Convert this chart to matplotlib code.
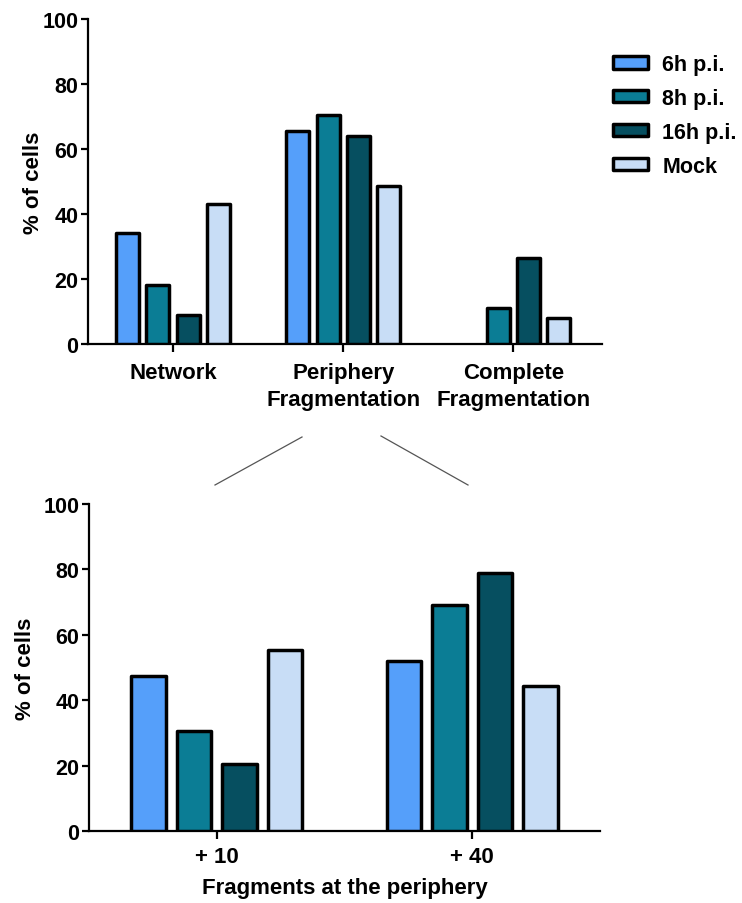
import matplotlib.pyplot as plt
import numpy as np
from matplotlib.lines import Line2D

plt.rcParams['font.family'] = ['Liberation Sans', 'DejaVu Sans']
plt.rcParams['font.weight'] = 'bold'

# data
series = ['6h p.i.', '8h p.i.', '16h p.i.', 'Mock']
colors = ['#559ffa', '#0b7d95', '#064f60', '#c8ddf6']

top_cats = ['Network', 'Periphery\nFragmentation', 'Complete\nFragmentation']
top_vals = [
    [34, 65.5, 0],     # 6h
    [18, 70.5, 11],    # 8h
    [9, 64, 26.5],     # 16h
    [43, 48.5, 8],     # Mock
]

bot_cats = ['+ 10', '+ 40']
bot_vals = [
    [47.5, 52],    # 6h
    [30.5, 69],    # 8h
    [20.5, 79],    # 16h
    [55.5, 44.5],  # Mock
]

yticks = [0, 20, 40, 60, 80, 100]

step = 0.178
bw = 0.135

fig = plt.figure(figsize=(7.42, 9.04), dpi=100)
ax1 = fig.add_axes([0.1186, 0.6184, 0.6927, 0.3595])
ax2 = fig.add_axes([0.12, 0.0796, 0.6887, 0.3617])


def draw(ax, cats, vals):
    x = np.arange(len(cats))
    bars = []
    for i, (name, v, c) in enumerate(zip(series, vals, colors)):
        b = ax.bar(x + (i - 1.5) * step, v, bw, color=c, edgecolor='black',
                   linewidth=2.5, label=name, zorder=3)
        for p in b.patches:
            p.set_joinstyle('round')
            if p.get_height() == 0:
                p.set_visible(False)
        bars.append(b)
    ax.set_ylim(0, 100)
    ax.set_yticks(yticks)
    ax.set_xticks(x)
    ax.set_xticklabels(cats, linespacing=1.35)
    for s in ['top', 'right']:
        ax.spines[s].set_visible(False)
    for s in ['left', 'bottom']:
        ax.spines[s].set_linewidth(1.6)
    ax.tick_params(axis='both', width=1.6, length=5, labelsize=15.5, pad=2)
    ax.tick_params(axis='x', length=6)
    return bars


bars = draw(ax1, top_cats, top_vals)
ax1.set_xlim(-0.5, 2.52)
ax1.tick_params(axis='x', labelsize=16, pad=7)
ax1.set_ylabel('% of cells', fontsize=16, fontweight='bold', labelpad=-1)

draw(ax2, bot_cats, bot_vals)
ax2.set_xlim(-0.5, 1.5)
ax2.tick_params(axis='x', labelsize=16, pad=5)
ax2.set_ylabel('% of cells', fontsize=16, fontweight='bold', labelpad=5)
ax2.set_xlabel('Fragments at the periphery', fontsize=16, fontweight='bold', labelpad=7)

leg = fig.legend(handles=bars, labels=series, loc='upper left',
                 bbox_to_anchor=(0.800, 0.9605), frameon=False,
                 fontsize=15.5, handlelength=1.65, handleheight=0.5,
                 labelspacing=0.6, handletextpad=0.65)
for h in leg.legend_handles:
    h.set_joinstyle('round')

# zoom lines from the periphery group to the lower panel
fig.add_artist(Line2D([302 / 742, 215 / 742], [1 - 438 / 904, 1 - 486 / 904],
                      color='#555555', linewidth=0.9))
fig.add_artist(Line2D([381 / 742, 468 / 742], [1 - 437 / 904, 1 - 486 / 904],
                      color='#555555', linewidth=0.9))

fig.savefig('out.png', dpi=100)
